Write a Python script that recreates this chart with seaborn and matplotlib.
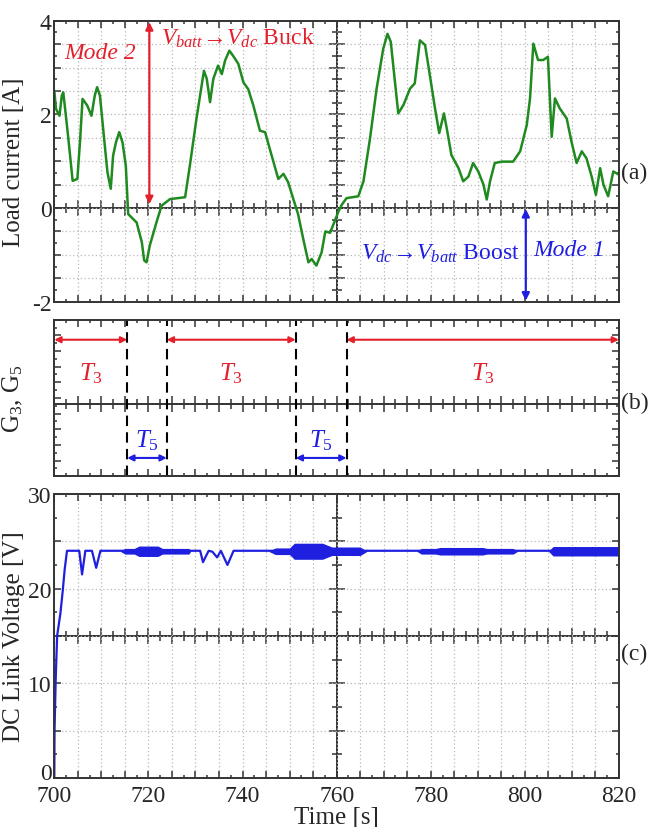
import numpy as np
import matplotlib
matplotlib.use("Agg")
import matplotlib.pyplot as plt
import matplotlib.transforms as mtransforms
from matplotlib.ticker import MultipleLocator, FuncFormatter, NullFormatter
import seaborn as sns

# %% data
# (a) load current
cur_t = [700.0, 700.35, 701.1, 701.6, 701.9, 702.3, 703.0, 703.9, 704.9, 705.5,
         706.0, 707.0, 707.9, 708.6, 709.1, 709.7, 710.6, 711.3, 712.0, 712.5,
         713.1, 713.8, 714.5, 715.2, 715.7, 716.4, 717.5, 718.6, 719.1, 719.6,
         720.3, 721.7, 722.8, 724.6, 727.8, 728.8, 730.2, 731.8, 732.4, 733.1,
         733.8, 734.8, 735.6, 736.3, 737.2, 738.0, 739.1, 740.2, 741.2, 742.3,
         743.7, 744.8, 745.8, 747.6, 748.7, 749.7, 750.8, 751.8, 752.9, 754.0,
         754.7, 755.7, 756.8, 757.6, 758.6, 759.6, 760.4, 761.1, 762.1, 764.6,
         765.7, 767.1, 768.5, 769.9, 770.8, 771.5, 773.1, 774.2, 775.6, 776.6,
         777.7, 778.8, 779.8, 780.9, 781.8, 782.8, 783.4, 784.4, 785.9, 786.9,
         788.0, 789.0, 790.1, 791.2, 791.9, 792.6, 793.6, 795.1, 797.5, 799.0,
         800.4, 801.1, 801.8, 802.8, 803.9, 804.9, 805.7, 806.4, 807.4, 808.9,
         809.9, 811.0, 812.1, 813.1, 814.2, 815.1, 816.0, 816.7, 817.7, 818.8,
         820.0]
cur_a = [2.51, 2.12, 1.97, 2.40, 2.47, 2.12, 1.47, 0.58, 0.62, 1.47,
         2.33, 2.19, 1.97, 2.40, 2.58, 2.40, 1.47, 0.76, 0.41, 1.12,
         1.40, 1.62, 1.40, 0.90, -0.13, -0.20, -0.31, -0.73, -1.12, -1.16,
         -0.80, -0.31, 0.05, 0.19, 0.23, 0.90, 1.90, 2.93, 2.76, 2.26,
         2.76, 3.04, 2.86, 3.15, 3.36, 3.25, 3.08, 2.68, 2.54, 2.19,
         1.65, 1.62, 1.26, 0.62, 0.73, 0.55, 0.19, -0.13, -0.66, -1.16,
         -1.09, -1.23, -0.95, -0.50, -0.53, -0.28, -0.07, 0.07, 0.21, 0.25,
         0.57, 1.49, 2.55, 3.40, 3.72, 3.55, 2.02, 2.20, 2.55, 2.66,
         3.58, 3.48, 2.84, 2.13, 1.60, 2.02, 1.70, 1.13, 0.85, 0.57,
         0.67, 0.96, 0.78, 0.50, 0.18, 0.57, 0.96, 0.99, 0.99, 1.21,
         1.77, 2.34, 3.51, 3.16, 3.16, 3.23, 1.52, 2.34, 2.13, 1.91,
         1.42, 0.96, 1.21, 1.06, 0.67, 0.28, 0.85, 0.50, 0.25, 0.78,
         0.71]

# (b) switching instants and gate intervals
switch_t = [715.5, 723.9, 751.3, 762.1]
t3_start = [700.0, 723.9, 762.1]
t3_end = [715.5, 751.3, 820.0]
t5_start = [715.5, 751.3]
t5_end = [723.9, 762.1]

# (c) DC link voltage
dc_t = [700.0, 700.05, 700.3, 700.6, 701.3, 701.8, 702.2, 702.7, 705.3, 705.9,
        706.6, 708.0, 708.9, 709.8, 731.0, 731.6, 732.8, 733.6, 734.6, 735.4,
        736.8, 738.1, 820.0]
dc_v = [0.0, 5.0, 10.4, 15.0, 17.4, 19.8, 22.0, 24.0, 24.0, 21.5,
        24.0, 24.0, 22.2, 24.0, 24.0, 22.8, 24.0, 23.9, 23.3, 24.0,
        22.5, 24.0, 24.0]
# ripple band around the 24 V level (half width in V)
ripple_level = 23.95
ripple_t = [714.0, 715.0, 717.0, 718.0, 722.0, 723.0, 728.6, 729.0, 745.5, 747.0,
            750.0, 751.0, 757.0, 759.0, 765.0, 766.5, 777.0, 778.0, 781.0, 782.0,
            791.0, 792.0, 797.5, 798.5, 805.0, 806.0, 820.0]
ripple_h = [0.0, 0.3, 0.3, 0.55, 0.55, 0.3, 0.3, 0.0, 0.0, 0.35,
            0.35, 0.85, 0.85, 0.45, 0.45, 0.0, 0.0, 0.3, 0.3, 0.4,
            0.4, 0.3, 0.3, 0.0, 0.0, 0.5, 0.5]

# %% style
sns.set_style("ticks")
plt.rcParams["font.family"] = ["Liberation Serif", "DejaVu Serif"]
plt.rcParams["mathtext.fontset"] = "custom"
plt.rcParams["mathtext.rm"] = "Liberation Serif"
plt.rcParams["mathtext.it"] = "Liberation Serif:italic"

RED = "#e3202c"
BLUE = "#1f1fe0"
GREEN = "#1f8a1f"
FS = 17


def every(step):
    return FuncFormatter(lambda v, p: f"{v:.0f}" if abs(v / step - round(v / step)) < 1e-6 else "")


def scope(ax, ylim, ymaj, ymin, ycenter, grid=True, vline=True):
    ax.set_xlim(700, 820)
    ax.set_ylim(*ylim)
    ax.xaxis.set_major_locator(MultipleLocator(5))
    ax.xaxis.set_minor_locator(MultipleLocator(2.5))
    ax.yaxis.set_major_locator(MultipleLocator(ymaj))
    ax.yaxis.set_minor_locator(MultipleLocator(ymin))
    ax.tick_params(which="both", direction="in", top=True, right=True,
                   width=1.1, color="#333333", labelsize=FS, pad=2)
    ax.tick_params(axis="x", pad=5)
    ax.tick_params(which="major", length=5)
    ax.tick_params(which="minor", length=2.5)
    for s in ax.spines.values():
        s.set_linewidth(1.4)
        s.set_color("#333333")
    if grid:
        ax.grid(True, which="major", ls=(0, (1, 2)), color="#b8b8b8", lw=0.9)
    frac = (ycenter - ylim[0]) / (ylim[1] - ylim[0])
    sx = ax.secondary_xaxis(frac)
    sx.xaxis.set_major_locator(MultipleLocator(5))
    sx.xaxis.set_minor_locator(MultipleLocator(2.5))
    sx.tick_params(which="both", direction="inout", labeltop=False, labelbottom=False,
                   width=1.1, color="#333333")
    sx.tick_params(which="major", length=12)
    sx.tick_params(which="minor", length=7)
    for s in sx.spines.values():
        s.set_linewidth(1.4)
        s.set_color("#333333")
    if vline:
        sy = ax.secondary_yaxis(0.5)
        sy.yaxis.set_major_locator(MultipleLocator(ymaj))
        sy.yaxis.set_minor_locator(MultipleLocator(ymin))
        sy.tick_params(which="both", direction="inout", labelleft=False, labelright=False,
                       width=1.1, color="#333333")
        sy.tick_params(which="major", length=12)
        sy.tick_params(which="minor", length=7)
        for s in sy.spines.values():
            s.set_linewidth(1.4)
            s.set_color("#333333")


fig = plt.figure(figsize=(6.51, 8.28), dpi=100)
ax_a = fig.add_axes([0.0834, 0.6345, 0.8674, 0.3393])
ax_b = fig.add_axes([0.0834, 0.4236, 0.8674, 0.1891])
ax_c = fig.add_axes([0.0834, 0.0592, 0.8674, 0.3430])

LABEL_X = -0.052

# %% (a)
scope(ax_a, (-2, 4), 0.5, 0.25, 0.0)
sns.lineplot(x=cur_t, y=cur_a, ax=ax_a, color=GREEN, lw=1.8, estimator=None, sort=False)
ax_a.xaxis.set_major_formatter(NullFormatter())
ax_a.yaxis.set_major_formatter(every(2))
ax_a.set_ylabel("Load current [A]", fontsize=FS + 1)
ax_a.yaxis.set_label_coords(LABEL_X, 0.5)

arrow = dict(arrowstyle="<|-|>", lw=1.6, mutation_scale=11, shrinkA=0, shrinkB=0)
ax_a.annotate("", xy=(720.2, 3.97), xytext=(720.2, 0.08), arrowprops={**arrow, "color": RED})
ax_a.text(709.7, 3.33, "Mode 2", color=RED, fontsize=17, style="italic", ha="center", va="center")
ax_a.text(722.6, 3.64, r"$V_{batt}\!\rightarrow\!V_{dc}$ Buck", color=RED, fontsize=17,
          ha="left", va="center")
ax_a.annotate("", xy=(800.2, -0.02), xytext=(800.2, -1.98), arrowprops={**arrow, "color": BLUE})
ax_a.text(799.0, -0.96, r"$V_{dc}\!\rightarrow\!V_{batt}$ Boost", color=BLUE, fontsize=17,
          ha="right", va="center")
ax_a.text(801.8, -0.88, "Mode 1", color=BLUE, fontsize=17, style="italic", ha="left", va="center")
ax_a.text(1.004, 0.46, "(a)", transform=ax_a.transAxes, fontsize=17, va="center", ha="left")

# %% (b)
scope(ax_b, (0, 1), 0.1, 0.05, 0.46, grid=False, vline=False)
ax_b.xaxis.set_major_formatter(NullFormatter())
ax_b.yaxis.set_major_formatter(NullFormatter())
for t in switch_t:
    ax_b.axvline(t, color="black", lw=1.5, ls=(0, (5, 3)))
small = dict(arrowstyle="<|-|>", lw=1.5, mutation_scale=9, shrinkA=0, shrinkB=0)
for s, e in zip(t3_start, t3_end):
    ax_b.annotate("", xy=(e, 0.872), xytext=(s, 0.872), arrowprops={**small, "color": RED})
    ax_b.text((s + e) / 2, 0.66, "$T_3$", color=RED, fontsize=18, ha="center", va="center")
for s, e in zip(t5_start, t5_end):
    ax_b.annotate("", xy=(e, 0.117), xytext=(s, 0.117), arrowprops={**small, "color": BLUE})
    ax_b.text((s + e) / 2, 0.235, "$T_5$", color=BLUE, fontsize=18, ha="center", va="center")
ax_b.set_ylabel("G$_3$, G$_5$", fontsize=FS + 1)
ax_b.yaxis.set_label_coords(LABEL_X, 0.5)
ax_b.text(1.004, 0.474, "(b)", transform=ax_b.transAxes, fontsize=17, va="center", ha="left")

# %% (c)
scope(ax_c, (0, 30), 5, 2.5, 15)
ax_c.fill_between(ripple_t, np.array(ripple_level) - ripple_h, np.array(ripple_level) + ripple_h,
                  color=BLUE, lw=0, zorder=2)
sns.lineplot(x=dc_t, y=dc_v, ax=ax_c, color=BLUE, lw=1.6, estimator=None, sort=False)
ax_c.xaxis.set_major_formatter(every(20))
ax_c.yaxis.set_major_formatter(every(10))
ax_c.set_ylabel("DC Link Voltage [V]", fontsize=FS + 1)
ax_c.yaxis.set_label_coords(LABEL_X, 0.5)
ax_c.set_xlabel("Time [s]", fontsize=FS + 1)
ax_c.xaxis.set_label_coords(0.5, -0.1)
ax_c.text(1.004, 0.44, "(c)", transform=ax_c.transAxes, fontsize=17, va="center", ha="left")

# lift the corner "0" a little so it clears the "700" below it
fig.canvas.draw()
lift = mtransforms.ScaledTranslation(0, 7 / 100, fig.dpi_scale_trans)
for tick in ax_c.yaxis.get_major_ticks():
    if tick.label1.get_text() == "0":
        tick.label1.set_transform(tick.label1.get_transform() + lift)

fig.savefig("out.png", dpi=100)
